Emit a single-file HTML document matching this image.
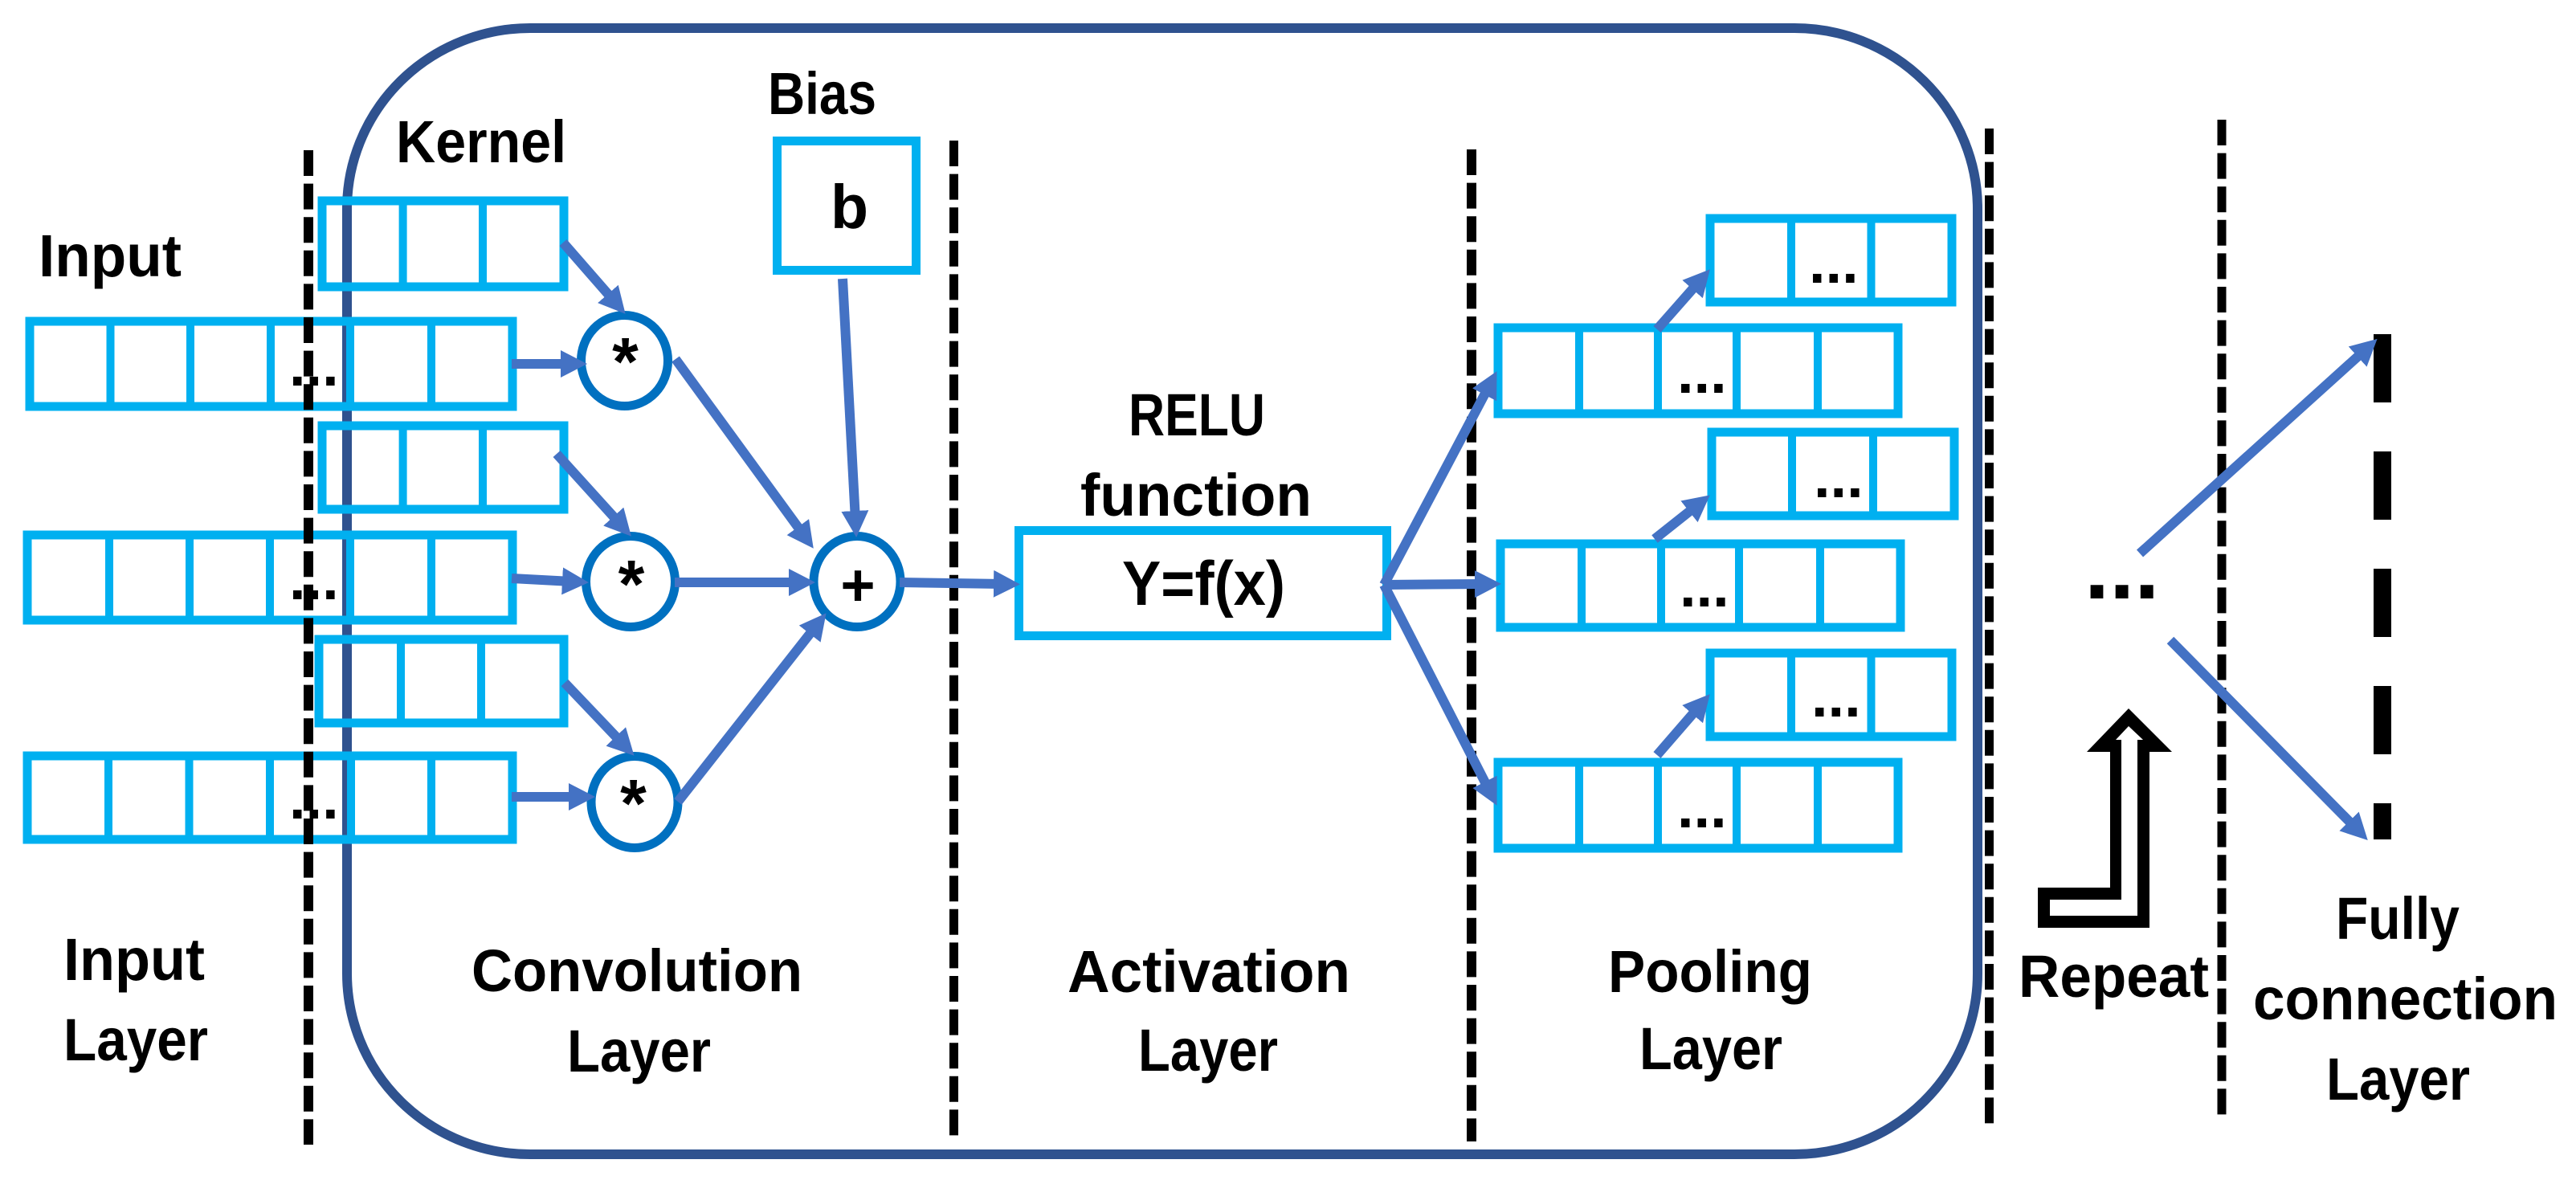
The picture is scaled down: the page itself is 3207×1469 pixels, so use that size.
<!DOCTYPE html>
<html>
<head>
<meta charset="utf-8">
<style>
html,body{margin:0;padding:0;background:#fff}
svg{display:block}
text{font-family:"Liberation Sans",sans-serif;font-weight:bold;font-size:74px;fill:#000}
.b{fill:none;stroke:#00B0F0;stroke-width:11}
.c{fill:none;stroke:#0070C0;stroke-width:11}
.d{stroke:#000;stroke-width:11;stroke-dasharray:32 9.6;fill:none}
.a{stroke:#4472C4;stroke-width:12;fill:none;marker-end:url(#h)}
.dv{stroke:#00B0F0;stroke-width:10}
.o{font-size:84px;text-anchor:middle}
</style>
</head>
<body>
<svg width="3207" height="1469" viewBox="0 0 3207 1469" xmlns="http://www.w3.org/2000/svg">
<defs>
<marker id="h" markerUnits="userSpaceOnUse" markerWidth="36" markerHeight="36" refX="12" refY="17" orient="auto">
<path d="M0,0 L33,17 L0,34 z" fill="#4472C4"/>
</marker>
</defs>
<rect width="3207" height="1469" fill="#fff"/>

<rect x="432" y="35" width="2030" height="1402" rx="228" ry="225" fill="none" stroke="#2F528F" stroke-width="12"/>

<!-- input rows -->
<rect class="b" x="37" y="400" width="601" height="106"/>
<path class="dv" d="M137.500 400V506M237 400V506M337 400V506M436 400V506M537 400V506"/>
<rect class="b" x="34" y="666" width="604" height="106"/>
<path class="dv" d="M136 666V772M236 666V772M336 666V772M436 666V772M537 666V772"/>
<rect class="b" x="34" y="941" width="604" height="104"/>
<path class="dv" d="M135 941V1045M235.500 941V1045M336 941V1045M437 941V1045M537 941V1045"/>

<!-- kernels -->
<rect class="b" x="401" y="250" width="301" height="107"/>
<path class="dv" d="M501.600 250V357M601 250V357"/>
<rect class="b" x="401" y="530" width="301" height="104"/>
<path class="dv" d="M501.600 530V634M601 530V634"/>
<rect class="b" x="397" y="796" width="305" height="104"/>
<path class="dv" d="M499 796V900M599 796V900"/>

<!-- bias, activation -->
<rect class="b" x="967.500" y="175.500" width="173" height="161"/>
<rect class="b" x="1268.500" y="660.500" width="458" height="131"/>

<!-- pooling -->
<rect class="b" x="2129" y="272" width="301" height="104"/>
<path class="dv" d="M2230 272V376M2329.500 272V376"/>
<rect class="b" x="1865" y="408" width="498" height="107"/>
<path class="dv" d="M1966 408V515M2064 408V515M2162 408V515M2263 408V515"/>
<rect class="b" x="2131" y="538" width="302" height="104"/>
<path class="dv" d="M2231 538V642M2332 538V642"/>
<rect class="b" x="1868" y="677" width="498" height="104"/>
<path class="dv" d="M1969 677V781M2068 677V781M2165 677V781M2266 677V781"/>
<rect class="b" x="2129" y="813" width="301" height="104"/>
<path class="dv" d="M2230 813V917M2329.500 813V917"/>
<rect class="b" x="1865" y="949" width="498" height="107"/>
<path class="dv" d="M1966 949V1056M2064 949V1056M2162 949V1056M2263 949V1056"/>

<!-- circles -->
<ellipse class="c" cx="777.500" cy="449" rx="54" ry="56.500"/>
<ellipse class="c" cx="785" cy="724" rx="55.500" ry="56.500"/>
<ellipse class="c" cx="790" cy="998.500" rx="54" ry="57"/>
<ellipse class="c" cx="1067" cy="724" rx="54" ry="56.500"/>

<!-- dashed separators -->
<path class="d" d="M384 187V1425" style="stroke-width:12"/>
<path class="d" d="M1187.500 175V1414"/>
<path class="d" d="M1832 186V1421" style="stroke-width:12"/>
<path class="d" d="M2476.500 160V1399"/>
<path class="d" d="M2766 149V1389"/>
<path d="M2966 416V1045" stroke="#000" stroke-width="22" stroke-dasharray="85 61" fill="none"/>

<!-- text -->
<text x="48" y="344" textLength="178" lengthAdjust="spacingAndGlyphs">Input</text>
<text x="493" y="202" textLength="212" lengthAdjust="spacingAndGlyphs">Kernel</text>
<text x="956" y="142" textLength="135" lengthAdjust="spacingAndGlyphs">Bias</text>
<text x="1034" y="284" style="font-size:77px">b</text>
<text x="79" y="1220" textLength="176" lengthAdjust="spacingAndGlyphs">Input</text>
<text x="79" y="1320" textLength="180" lengthAdjust="spacingAndGlyphs">Layer</text>
<text x="587" y="1234" textLength="412" lengthAdjust="spacingAndGlyphs">Convolution</text>
<text x="706" y="1334" textLength="179" lengthAdjust="spacingAndGlyphs">Layer</text>
<text x="1329" y="1235" textLength="352" lengthAdjust="spacingAndGlyphs">Activation</text>
<text x="1417" y="1333" textLength="174" lengthAdjust="spacingAndGlyphs">Layer</text>
<text x="1405" y="542" textLength="170" lengthAdjust="spacingAndGlyphs">RELU</text>
<text x="1345" y="642" textLength="288" lengthAdjust="spacingAndGlyphs">function</text>
<text x="1397" y="753" textLength="203" lengthAdjust="spacingAndGlyphs" style="font-size:78px">Y=f(x)</text>
<text x="2002" y="1235" textLength="254" lengthAdjust="spacingAndGlyphs">Pooling</text>
<text x="2041" y="1331" textLength="178" lengthAdjust="spacingAndGlyphs">Layer</text>
<text x="2513" y="1241" textLength="237" lengthAdjust="spacingAndGlyphs">Repeat</text>
<text x="2908" y="1169" textLength="154" lengthAdjust="spacingAndGlyphs">Fully</text>
<text x="2805" y="1269" textLength="379" lengthAdjust="spacingAndGlyphs">connection</text>
<text x="2896" y="1369" textLength="179" lengthAdjust="spacingAndGlyphs">Layer</text>

<!-- operators -->
<text class="o" x="778.500" y="479">*</text>
<text class="o" x="786" y="756">*</text>
<text class="o" x="788.500" y="1029">*</text>
<text x="1068" y="754" style="font-size:74px;text-anchor:middle">+</text>

<!-- ellipses -->
<text x="360" y="480">...</text>
<text x="360" y="746">...</text>
<text x="360" y="1019">...</text>
<text x="2252" y="352">...</text>
<text x="2088" y="489">...</text>
<text x="2258" y="619">...</text>
<text x="2091" y="755">...</text>
<text x="2255" y="892">...</text>
<text x="2088" y="1030">...</text>
<text x="2595" y="745" style="font-size:112px">...</text>

<!-- arrows -->
<line class="a" x1="701" y1="302" x2="764.800" y2="375"/>
<line class="a" x1="637" y1="453" x2="710" y2="453"/>
<line class="a" x1="841" y1="447" x2="1000.400" y2="665.800"/>
<line class="a" x1="1049" y1="347" x2="1065" y2="648"/>
<line class="a" x1="693" y1="565" x2="771.800" y2="652"/>
<line class="a" x1="637" y1="720" x2="712" y2="724"/>
<line class="a" x1="840" y1="725" x2="994" y2="725"/>
<line class="a" x1="703" y1="850" x2="775" y2="925.600"/>
<line class="a" x1="637" y1="992" x2="720" y2="992"/>
<line class="a" x1="844" y1="998" x2="1015.600" y2="779.700"/>
<line class="a" x1="1120" y1="725" x2="1249" y2="727"/>
<line class="a" x1="1723" y1="728" x2="1853.700" y2="480.700"/>
<line class="a" x1="1723" y1="728" x2="1848" y2="727"/>
<line class="a" x1="1723" y1="728" x2="1854" y2="984"/>
<line class="a" x1="2063" y1="410" x2="2115" y2="351"/>
<line class="a" x1="2060" y1="671" x2="2112.400" y2="629.400"/>
<line class="a" x1="2063" y1="940" x2="2115" y2="880"/>
<line class="a" x1="2664" y1="689" x2="2944" y2="436"/>
<line class="a" x1="2702" y1="797" x2="2933" y2="1031"/>

<!-- repeat arrow -->
<polygon points="2650,882 2704,936 2676,936 2676,1155 2537,1155 2537,1105 2627,1105 2627,936 2598,936" fill="#000"/>
<polygon points="2650,904 2668,921 2661,921 2661,1140 2552,1140 2552,1120 2641,1120 2641,921 2634,921" fill="#fff"/>
</svg>
</body>
</html>
